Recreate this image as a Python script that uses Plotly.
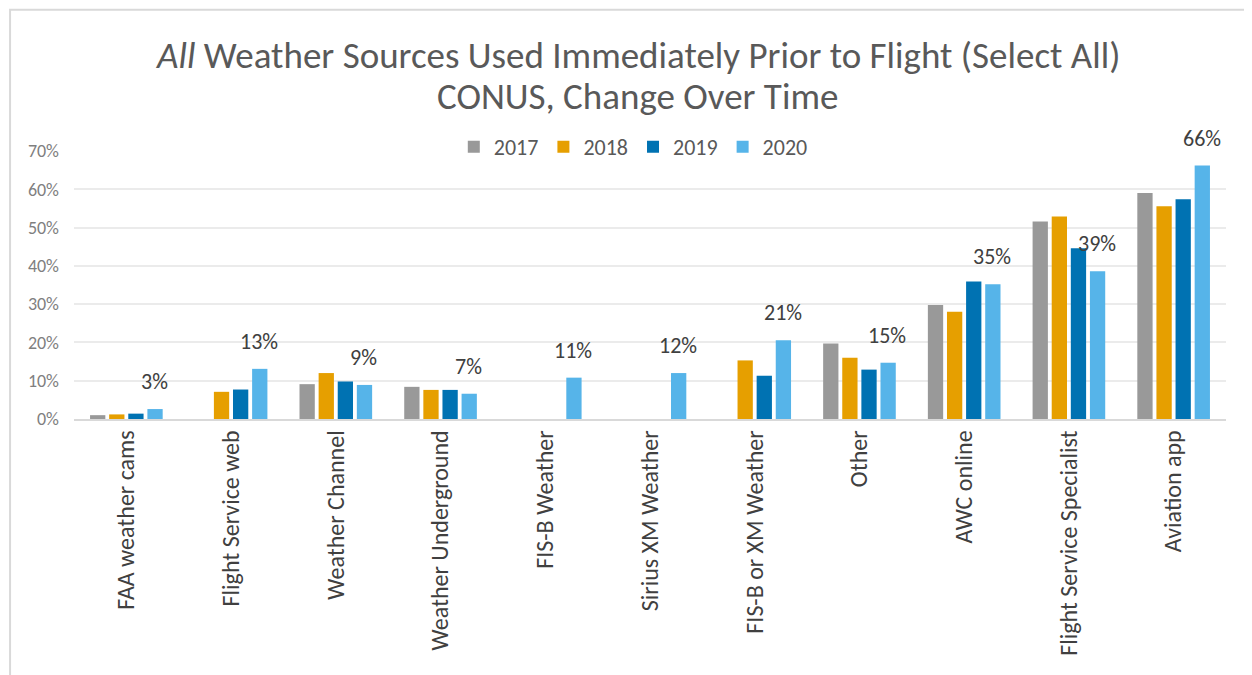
import plotly.graph_objects as go

categories = ["FAA weather cams", "Flight Service web", "Weather Channel", "Weather Underground",
              "FIS-B Weather", "Sirius XM Weather", "FIS-B or XM Weather", "Other", "AWC online",
              "Flight Service Specialist", "Aviation app"]
years = ["2017", "2018", "2019", "2020"]
v2017 = [1.0, None, 9.1, 8.4, None, None, None, 19.7, 29.8, 51.6, 59.0]
v2018 = [1.2, 7.1, 12.0, 7.6, None, None, 15.3, 16.0, 28.0, 52.9, 55.6]
v2019 = [1.4, 7.7, 9.8, 7.6, None, None, 11.3, 12.9, 35.9, 44.6, 57.4]
v2020 = [2.6, 13.1, 8.9, 6.6, 10.8, 12.0, 20.6, 14.7, 35.2, 38.6, 66.2]
colors = ["#999999", "#E69F00", "#0072B2", "#56B4E9"]
yticks = [0, 10, 20, 30, 40, 50, 60, 70]
ytick_labels = ["0%", "10%", "20%", "30%", "40%", "50%", "60%", "70%"]
title_line1 = "<i>All</i> Weather Sources Used Immediately Prior to Flight (Select All)"
title_line2 = "CONUS, Change Over Time"

FONT = "Carlito, Lato, 'Open Sans', sans-serif"

fig = go.Figure()
for name, vals, col in zip(years, [v2017, v2018, v2019, v2020], colors):
    fig.add_trace(go.Bar(name=name, x=categories, y=vals, marker=dict(color=col, line=dict(width=0))))

# data labels for 2020
for c, v in zip(categories, v2020):
    fig.add_annotation(x=c, y=v, text=f"{v:.0f}%", showarrow=False, yanchor="bottom",
                       xshift=28, yshift=12, font=dict(family=FONT, size=22, color="#404040"))

# title as two lines
for txt, yy in [(title_line1, 1.358), (title_line2, 1.2015)]:
    fig.add_annotation(text=txt, xref="paper", yref="paper", x=0.4895, y=yy, xanchor="center",
                       yanchor="middle", showarrow=False,
                       font=dict(family=FONT, size=37, color="#595959"))

# outer chart border (left and top edges visible)
fig.add_shape(type="rect", xref="paper", yref="paper", x0=-0.0555, x1=1.1, y0=-1.3, y1=1.527,
              line=dict(color="#d9d9d9", width=2), layer="below")

fig.update_layout(
    width=1252, height=675,
    paper_bgcolor="white", plot_bgcolor="white",
    barmode="group", bargap=0.27, bargroupgap=0.2,
    margin=dict(l=66, r=34, t=143, b=264),
    legend=dict(orientation="h", x=0.4855, xanchor="center", y=1.015, yanchor="middle",
                font=dict(family=FONT, size=22, color="#595959"), bgcolor="rgba(0,0,0,0)",
                traceorder="normal"),
    xaxis=dict(tickangle=-90, tickfont=dict(family=FONT, size=24, color="#404040"),
               showgrid=False, showline=True, linecolor="#d9d9d9", linewidth=1.5, ticks=""),
    yaxis=dict(range=[0, 70], tickvals=yticks, ticktext=ytick_labels,
               tickfont=dict(family=FONT, size=18, color="#7f7f7f"), ticklabelstandoff=14,
               gridcolor="#ebebeb", gridwidth=1.5, zeroline=False, showline=False, ticks=""),
    font=dict(family=FONT),
)

fig.write_html("out.html")
